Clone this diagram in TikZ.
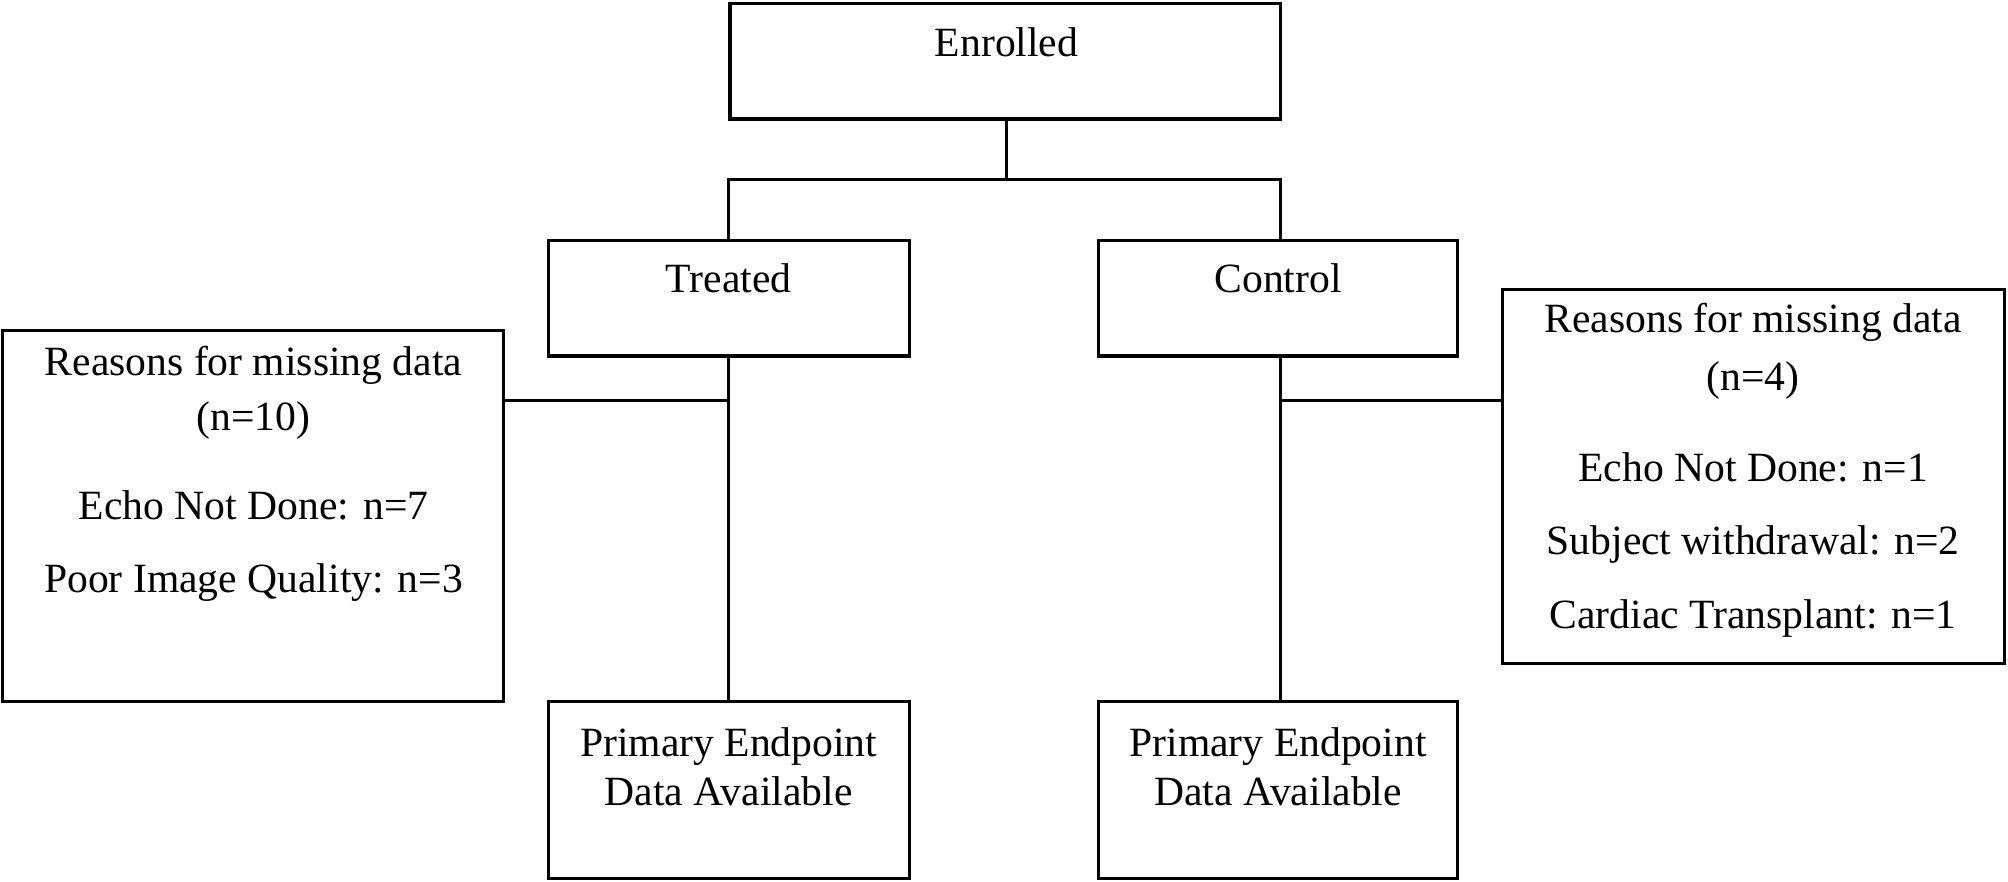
\documentclass[tikz,border=0pt]{standalone}
\usepackage{fontspec}
\setmainfont{Liberation Serif}
\begin{document}
\begin{tikzpicture}[x=1pt,y=-1pt,
 box/.style={draw,line width=2.5pt,inner sep=0pt},
 txt/.style={font=\fontsize{32.5}{36}\selectfont,inner sep=0pt,anchor=center},
 ln/.style={line width=2.5pt}]
\useasboundingbox (0,0) rectangle (1568,688);
\draw[box] (570,3) rectangle (1000,93);
\draw[box] (428,188) rectangle (710,278);
\draw[box] (858,188) rectangle (1138,278);
\draw[box] (2,258) rectangle (393,548);
\draw[box] (1173,226) rectangle (1565,518);
\draw[box] (428,548) rectangle (710,686);
\draw[box] (858,548) rectangle (1138,686);
\coordinate (eb) at (786,93);
\coordinate (split) at (786,140);
\coordinate (tt) at (569,188); \coordinate (ct) at (1000,188);
\coordinate (tb) at (569,278); \coordinate (cb) at (1000,278);
\coordinate (pl) at (569,548); \coordinate (pr) at (1000,548);
\coordinate (lr) at (393,313); \coordinate (rl) at (1173,313);
\draw[ln] (eb) -- (split);
\draw[ln] (tt) -- (569,140) -- (1000,140) -- (ct);
\draw[ln] (tb) -- (pl);
\draw[ln] (cb) -- (pr);
\draw[ln] (lr) -- (569,313);
\draw[ln] (rl) -- (1000,313);
\node[txt] (t1) at (786,33) {Enrolled};
\node[txt] (t2) at (569,217) {Treated};
\node[txt] (t3) at (998,217) {Control};
\node[txt] (t4) at (198,285) {Reasons for missing data};
\node[txt] (t5) at (198,328) {(n=10)};
\node[txt] (t6) at (198,395) {Echo Not Done: n=7};
\node[txt] (t7) at (198,455) {Poor Image Quality: n=3};
\node[txt] (t8) at (1369,252) {Reasons for missing data};
\node[txt] (t9) at (1369,297) {(n=4)};
\node[txt] (t10) at (1369,365) {Echo Not Done: n=1};
\node[txt] (t11) at (1369,425) {Subject withdrawal: n=2};
\node[txt] (t12) at (1369,483) {Cardiac Transplant: n=1};
\node[txt] (t13) at (569,583) {Primary Endpoint};
\node[txt] (t14) at (569,618) {Data Available};
\node[txt] (t15) at (998,583) {Primary Endpoint};
\node[txt] (t16) at (998,618) {Data Available};
\end{tikzpicture}
\end{document}
